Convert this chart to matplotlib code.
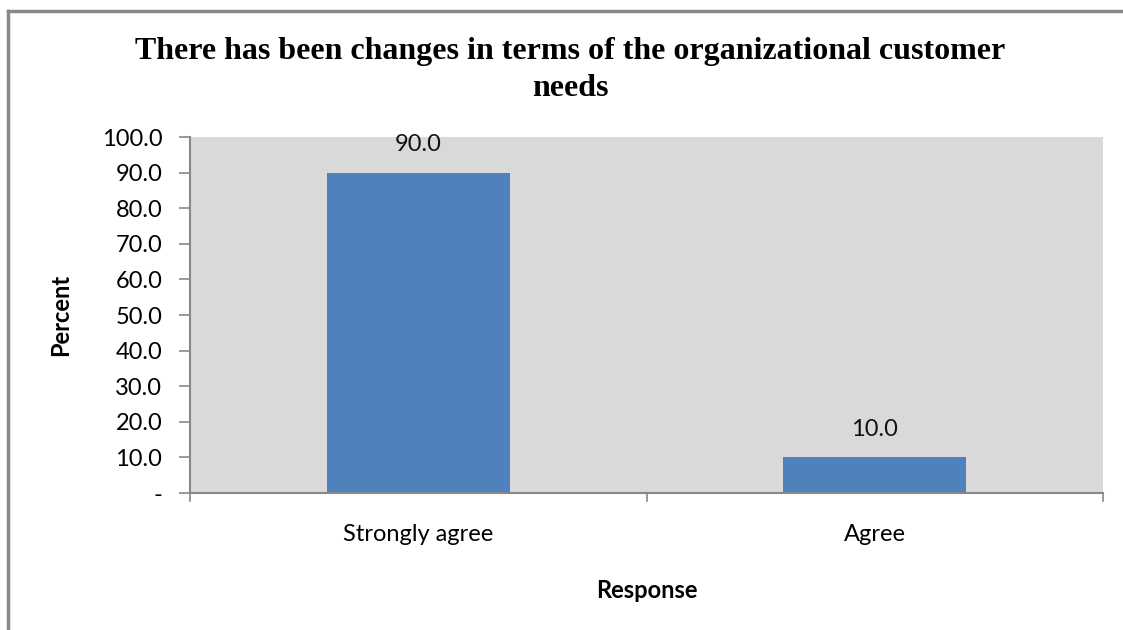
import matplotlib
matplotlib.use('Agg')
import matplotlib.pyplot as plt
from matplotlib.lines import Line2D

categories = ["Strongly agree", "Agree"]
percent = [90.0, 10.0]
yticks = [0, 10, 20, 30, 40, 50, 60, 70, 80, 90, 100]

title = "There has been changes in terms of the organizational customer\nneeds"

bar_color = "#4f81bd"
axis_gray = "#888888"
label_font = "Lato"

fig = plt.figure(figsize=(11.23, 6.3), dpi=100)
ax = fig.add_axes([190 / 1123, 1 - 493 / 630, 913 / 1123, 356 / 630])
ax.set_facecolor("#d9d9d9")

x = range(len(categories))
ax.bar(x, percent, width=0.4, color=bar_color, zorder=2)
for xi, v in zip(x, percent):
    ax.text(xi, v + 5.0, "%.1f" % v, ha="center", va="bottom",
            fontsize=17, family=label_font, color="#111111")

ax.set_xlim(-0.5, len(categories) - 0.5)
ax.set_ylim(0, 100)
ax.set_yticks(yticks)
ax.set_yticklabels(["-" if t == 0 else "%.1f" % t for t in yticks],
                   fontsize=17, family=label_font)
ax.set_xticks(list(x))
ax.set_xticklabels(categories, fontsize=17, family=label_font)
ax.tick_params(axis="x", length=0, pad=22)
ax.tick_params(axis="y", length=8, width=1.2, color=axis_gray, pad=12)

# category boundary ticks under the x axis
for b in [-0.5, 0.5, 1.5]:
    ax.plot([b, b], [0, -2.2], color=axis_gray, lw=1.2, clip_on=False)

for side in ["top", "right"]:
    ax.spines[side].set_visible(False)
for side in ["left", "bottom"]:
    ax.spines[side].set_color(axis_gray)
    ax.spines[side].set_linewidth(1.5)

ax.set_ylabel("Percent", fontsize=17, family=label_font, fontweight="bold", labelpad=21)
ax.set_xlabel("Response", fontsize=17, family=label_font, fontweight="bold", labelpad=25)

fig.text(570 / 1123, 1 - 70 / 630, title, ha="center", va="center",
         fontsize=23, family="Liberation Serif", fontweight="bold", linespacing=1.38)

# chart outer border (left and top edges)
bx, by = 7.5 / 1123, 1 - 11 / 630
fig.add_artist(Line2D([bx, bx], [0, by], transform=fig.transFigure, color=axis_gray, lw=2.5))
fig.add_artist(Line2D([bx, 1], [by, by], transform=fig.transFigure, color=axis_gray, lw=2.5))

fig.savefig("out.png", dpi=100)
